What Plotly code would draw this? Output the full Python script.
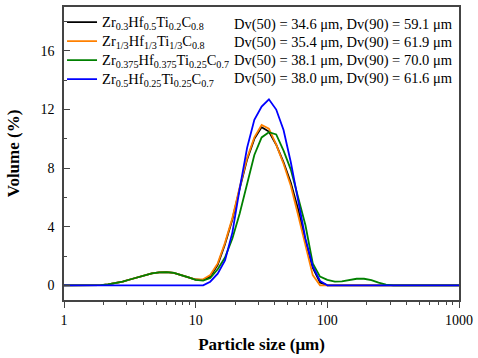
import plotly.graph_objects as go

# Particle size bins (µm), 18 per decade
sizes = [1.00, 1.14, 1.29, 1.47, 1.67, 1.90, 2.16, 2.45, 2.79, 3.17, 3.60, 4.09, 4.65, 5.29,
         6.01, 6.83, 7.76, 8.82, 10.0, 11.4, 12.9, 14.7, 16.7, 19.0, 21.6, 24.6, 27.9, 31.7,
         36.0, 40.9, 46.5, 52.8, 60.0, 68.2, 77.5, 88.0, 100, 114, 129, 147, 167, 190, 216,
         245, 279, 317, 360, 409, 465, 528, 600, 682, 775, 880, 1000]

zr03 = [0, 0, 0, 0, 0, 0.02, 0.06, 0.13, 0.25, 0.40, 0.55, 0.70, 0.82, 0.88,
        0.90, 0.85, 0.72, 0.55, 0.40, 0.36, 0.60, 1.40, 2.80, 4.50, 6.60, 8.60, 10.0, 10.8,
        10.5, 9.6, 8.4, 7.0, 5.2, 3.0, 1.2, 0.2, 0, 0, 0, 0, 0, 0, 0,
        0, 0, 0, 0, 0, 0, 0, 0, 0, 0, 0, 0]

zr13 = [0, 0, 0, 0, 0, 0.02, 0.06, 0.13, 0.25, 0.40, 0.55, 0.70, 0.82, 0.88,
        0.90, 0.85, 0.72, 0.55, 0.40, 0.42, 0.70, 1.50, 2.90, 4.60, 6.70, 8.70, 10.1, 10.95,
        10.7, 9.6, 8.3, 6.8, 4.8, 2.7, 0.7, 0, 0, 0, 0, 0, 0, 0, 0,
        0, 0, 0, 0, 0, 0, 0, 0, 0, 0, 0, 0]

zr0375 = [0, 0, 0, 0, 0, 0.02, 0.06, 0.13, 0.25, 0.40, 0.55, 0.70, 0.82, 0.88,
          0.90, 0.85, 0.72, 0.55, 0.38, 0.32, 0.50, 1.10, 1.90, 3.20, 4.90, 7.00, 8.90, 10.1,
          10.45, 10.3, 9.2, 7.9, 6.0, 4.1, 1.5, 0.6, 0.38, 0.26, 0.27, 0.38, 0.45, 0.45, 0.36,
          0.18, 0.05, 0, 0, 0, 0, 0, 0, 0, 0, 0, 0]

zr05 = [0, 0, 0, 0, 0, 0, 0, 0, 0, 0, 0, 0, 0, 0,
        0, 0, 0, 0, 0, 0, 0.25, 0.80, 1.70, 3.60, 6.60, 9.40, 11.3, 12.2,
        12.7, 12.0, 10.6, 8.4, 5.8, 3.2, 1.3, 0.3, 0, 0, 0, 0, 0, 0, 0,
        0, 0, 0, 0, 0, 0, 0, 0, 0, 0, 0, 0]

names = ["Zr<sub>0.3</sub>Hf<sub>0.5</sub>Ti<sub>0.2</sub>C<sub>0.8</sub>",
         "Zr<sub>1/3</sub>Hf<sub>1/3</sub>Ti<sub>1/3</sub>C<sub>0.8</sub>",
         "Zr<sub>0.375</sub>Hf<sub>0.375</sub>Ti<sub>0.25</sub>C<sub>0.7</sub>",
         "Zr<sub>0.5</sub>Hf<sub>0.25</sub>Ti<sub>0.25</sub>C<sub>0.7</sub>"]
dv_labels = ["Dv(50) = 34.6 μm, Dv(90) = 59.1 μm",
             "Dv(50) = 35.4 μm, Dv(90) = 61.9 μm",
             "Dv(50) = 38.1 μm, Dv(90) = 70.0 μm",
             "Dv(50) = 38.0 μm, Dv(90) = 61.6 μm"]
series = [zr03, zr13, zr0375, zr05]
colors = ["#000000", "#FF8000", "#008000", "#0000FF"]

FONT = "Liberation Serif"

fig = go.Figure()
for nm, ys, c in zip(names, series, colors):
    fig.add_trace(go.Scatter(x=sizes, y=ys, mode="lines",
                             name=f'<span style="font-size:14.5px">{nm}</span>',
                             line=dict(color=c, width=1.8)))

# Dv annotations aligned with legend rows
row_y = [0.941, 0.879, 0.817, 0.755]
for txt, yy in zip(dv_labels, row_y):
    fig.add_annotation(x=0.425, y=yy, xref="paper", yref="paper", text=txt,
                       showarrow=False, xanchor="left", yanchor="middle",
                       font=dict(family=FONT, size=14.5, color="black"))

axis_col = "#444444"
fig.update_layout(
    width=478, height=358,
    margin=dict(l=64, r=16, t=5, b=58),
    paper_bgcolor="white", plot_bgcolor="white",
    font=dict(family=FONT, color="black", size=14),
    showlegend=True,
    legend=dict(x=-0.005, y=0.998, xanchor="left", yanchor="top",
                bgcolor="rgba(0,0,0,0)", font=dict(family=FONT, size=12, color="black"),
                tracegroupgap=0),
    xaxis=dict(type="log", range=[0, 3],
               tickvals=[1, 10, 100, 1000], ticktext=["1", "10", "100", "1000"],
               ticks="outside", ticklen=6, tickwidth=1.3, tickcolor=axis_col,
               minor=dict(ticks="outside", ticklen=3, tickwidth=1.1, tickcolor=axis_col,
                          dtick="D1", showgrid=False),
               showline=True, linecolor=axis_col, linewidth=1.5, mirror=True,
               showgrid=False, zeroline=False,
               tickfont=dict(family=FONT, size=14),
               title=dict(text="<b>Particle size (μm)</b>", font=dict(family=FONT, size=17),
                          standoff=12)),
    yaxis=dict(range=[-1, 19], tickvals=[0, 4, 8, 12, 16],
               ticks="inside", ticklen=6, tickwidth=1.3, tickcolor=axis_col,
               minor=dict(ticks="inside", ticklen=3, tickwidth=1.1, tickcolor=axis_col,
                          dtick=2, tick0=0, showgrid=False),
               showline=True, linecolor=axis_col, linewidth=1.5, mirror=True,
               showgrid=False, zeroline=False,
               ticklabelstandoff=5,
               tickfont=dict(family=FONT, size=14),
               title=dict(text="<b>Volume (%)</b>", font=dict(family=FONT, size=17),
                          standoff=17)),
)

fig.write_html("out.html", config={"displayModeBar": False},
               post_script="document.body.style.margin='0';")
